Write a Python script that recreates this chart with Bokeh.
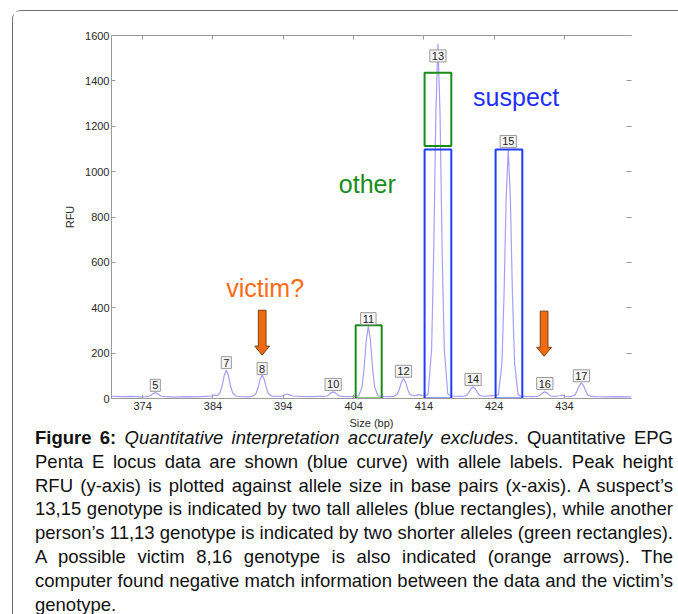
from bokeh.plotting import figure
from bokeh.models import LinearAxis, FixedTicker, Div
from bokeh.layouts import column
from bokeh.core.properties import value
from bokeh.embed import file_html
from bokeh.resources import INLINE

# ---------------- data ----------------
x_ticks = [374, 384, 394, 404, 414, 424, 434]
y_ticks = [0, 200, 400, 600, 800, 1000, 1200, 1400, 1600]

curve_x = [369.6, 371.0, 372.5, 373.5, 374.4,
           374.9, 375.2, 375.5, 375.8, 376.1, 376.4, 376.7, 377.2,
           378.5, 380.0, 381.5, 383.0, 383.8, 384.1, 384.4,
           384.6, 385.0, 385.3, 385.6, 385.9, 386.2, 386.5, 386.8, 387.3,
           388.0, 389.0, 389.6,
           390.1, 390.4, 390.7, 391.0, 391.3, 391.6, 391.9, 392.4,
           393.0, 393.8, 394.1, 394.5, 394.9, 395.4, 396.5, 398.0, 399.2,
           399.7, 400.2, 400.5, 400.8, 401.1, 401.4, 401.7, 402.0, 402.5,
           403.2, 404.0, 404.7,
           405.2, 405.5, 405.8, 406.1, 406.4, 406.7, 407.0, 407.5,
           408.3, 409.2, 409.7,
           410.2, 410.5, 410.8, 411.1, 411.4, 411.7, 412.0, 412.5,
           412.9, 413.3, 413.7, 414.3,
           414.6, 415.1, 415.4, 415.7, 416.0, 416.3, 416.6, 416.9, 417.4, 417.8,
           418.5, 419.5,
           420.1, 420.4, 420.7, 421.0, 421.3, 421.6, 421.9, 422.4,
           423.3, 423.6, 424.2,
           424.6, 425.1, 425.4, 425.7, 426.0, 426.3, 426.6, 426.9, 427.4, 427.8,
           428.5, 429.5, 429.8,
           430.3, 430.6, 430.9, 431.2, 431.5, 431.8, 432.1, 432.6,
           433.3, 433.7, 434.1, 434.6, 435.0,
           435.5, 435.8, 436.1, 436.4, 436.7, 437.0, 437.3, 437.8,
           438.5, 440.0, 441.5, 443.5]
curve_y = [10, 8, 9, 7, 8,
           10, 15, 22, 26, 22, 15, 10, 8,
           6, 8, 7, 9, 10, 15, 14,
           12, 25, 55, 101, 125, 101, 55, 24, 10,
           8, 7, 9,
           21, 46, 84, 103, 84, 46, 21, 10,
           9, 10, 14, 20, 16, 11, 9, 8, 9,
           9, 11, 17, 25, 29, 25, 17, 11, 9,
           8, 9, 10,
           50, 133, 256, 318, 256, 133, 50, 11,
           9, 8, 9,
           19, 40, 72, 88, 72, 40, 19, 12,
           14, 17, 14, 12,
           20, 218, 645, 1254, 1565, 1254, 645, 218, 20, 12,
           10, 9,
           14, 27, 43, 51, 43, 27, 14, 10,
           12, 14, 12,
           17, 155, 455, 882, 1100, 882, 455, 155, 17, 10,
           9, 8, 9,
           11, 17, 25, 29, 25, 17, 11, 9,
           12, 14, 10, 8, 9,
           16, 34, 57, 69, 57, 34, 16, 9,
           8, 7, 8, 7]

allele_labels = ["5", "7", "8", "10", "11", "12", "13", "14", "15", "16", "17"]
allele_x = [375.8, 385.9, 391.0, 401.1, 406.1, 411.1, 416.0, 421.0, 426.0, 431.2, 436.4]
allele_label_y = [58, 158, 132, 62, 352, 120, 1510, 84, 1133, 66, 100]

# other person (green) rectangles
other_left = [404.3, 414.1]
other_right = [408.0, 417.9]
other_bottom = [0, 1113]
other_top = [323, 1436]

# suspect (blue) rectangles
suspect_left = [414.1, 424.2]
suspect_right = [417.9, 428.0]
suspect_bottom = [0, 0]
suspect_top = [1097, 1097]

# victim arrows
arrow_x = [391.0, 431.1]
arrow_top = [389, 385]
arrow_tip = [191, 186]

# ---------------- figure ----------------
FONT = "Liberation Sans"
p = figure(width=664, height=421, x_range=(369.57, 443.53), y_range=(0, 1600),
           output_backend="svg", toolbar_location=None,
           min_border_left=98, min_border_right=46, min_border_top=24, min_border_bottom=34)
p.grid.visible = False
p.outline_line_color = None
p.background_fill_color = "white"
p.border_fill_color = "white"

AX = "#9a9a9a"
for ax in (p.xaxis[0], p.yaxis[0]):
    ax.axis_line_color = AX
    ax.major_tick_line_color = AX
    ax.major_tick_in = 4
    ax.major_tick_out = 0
    ax.minor_tick_line_color = None
    ax.major_label_text_font = FONT
    ax.major_label_text_font_size = "11px"
    ax.major_label_text_color = "#2a2a2a"
    ax.axis_label_text_font = FONT
    ax.axis_label_text_font_size = "11px"
    ax.axis_label_text_font_style = "normal"
    ax.axis_label_text_color = "#2a2a2a"

p.xaxis.ticker = FixedTicker(ticks=x_ticks)
p.yaxis.ticker = FixedTicker(ticks=y_ticks)
p.xaxis.axis_label = "Size (bp)"
p.yaxis.axis_label = "RFU"
p.xaxis.major_label_standoff = 3
p.xaxis.axis_label_standoff = 4
p.yaxis.major_label_standoff = 2
p.yaxis.axis_label_standoff = 6

top_ax = LinearAxis(ticker=FixedTicker(ticks=x_ticks), axis_line_color=AX,
                    major_tick_line_color=AX, major_tick_in=4, major_tick_out=0,
                    minor_tick_line_color=None, major_label_text_color=None,
                    major_label_standoff=0)
p.add_layout(top_ax, "above")
right_ax = LinearAxis(ticker=FixedTicker(ticks=y_ticks), axis_line_color=None,
                      major_tick_line_color=AX, major_tick_in=5, major_tick_out=0,
                      minor_tick_line_color=None, major_label_text_color=None,
                      major_label_standoff=0)
p.add_layout(right_ax, "right")

# curve
p.line(curve_x, curve_y, line_color="#a79cff", line_width=1.2)

# rectangles
p.quad(left=other_left, right=other_right, bottom=other_bottom, top=other_top,
       fill_color=None, line_color="#1a8c1a", line_width=2)
p.quad(left=suspect_left, right=suspect_right, bottom=suspect_bottom, top=suspect_top,
       fill_color=None, line_color="#1f3dff", line_width=2)

# allele labels
p.text(x=allele_x, y=allele_label_y, text=allele_labels,
       text_font=value(FONT), text_font_size="11px", text_color="#222222",
       text_align="center", text_baseline="middle",
       background_fill_color="#f5f5f5", border_line_color="#9a9a9a",
       border_line_width=1, padding=2)

# victim arrows drawn as polygons
shaft_w = 0.55
head_w = 1.05
head_len = 40
xs, ys = [], []
for cx, yt, yb in zip(arrow_x, arrow_top, arrow_tip):
    xs.append([cx - shaft_w, cx + shaft_w, cx + shaft_w, cx + head_w, cx,
               cx - head_w, cx - shaft_w])
    ys.append([yt, yt, yb + head_len, yb + head_len, yb, yb + head_len, yb + head_len])
p.patches(xs, ys, fill_color="#f06a12", line_color="#7a4018", line_width=1)

# annotation words
p.text(x=[401.9], y=[945], text=["other"], text_font=value(FONT),
       text_font_size="25px", text_color="#1a8c1a", text_baseline="alphabetic")
p.text(x=[421.0], y=[1327], text=["suspect"], text_font=value(FONT),
       text_font_size="25px", text_color="#1f2fff", text_baseline="alphabetic")
p.text(x=[385.9], y=[485], text=["victim?"], text_font=value(FONT),
       text_font_size="25px", text_color="#ff6a14", text_baseline="alphabetic")

caption = (
    '<div style="margin:-11px 9px 0 17px; text-align:justify; font-family:\'Liberation Sans\', Arial, sans-serif;'
    ' font-size:18.5px; line-height:23.8px; color:#111;">'
    '<b>Figure 6:</b> <i>Quantitative interpretation accurately excludes</i>. '
    'Quantitative EPG Penta E locus data are shown (blue curve) with allele labels. '
    'Peak height RFU (y-axis) is plotted against allele size in base pairs (x-axis). '
    'A suspect\u2019s 13,15 genotype is indicated by two tall alleles (blue rectangles), '
    'while another person\u2019s 11,13 genotype is indicated by two shorter alleles (green rectangles). '
    'A possible victim 8,16 genotype is also indicated (orange arrows). '
    'The computer found negative match information between the data and the victim\u2019s genotype.'
    '</div>'
)
div = Div(text=caption, width=664, height=180)

layout = column(p, div, spacing=0,
                styles={"margin-left": "12px", "margin-top": "10px",
                        "border-left": "1.5px solid #707070",
                        "border-top": "1.5px solid #707070",
                        "border-top-left-radius": "9px"})

open("out.html", "w").write(file_html(layout, INLINE))
